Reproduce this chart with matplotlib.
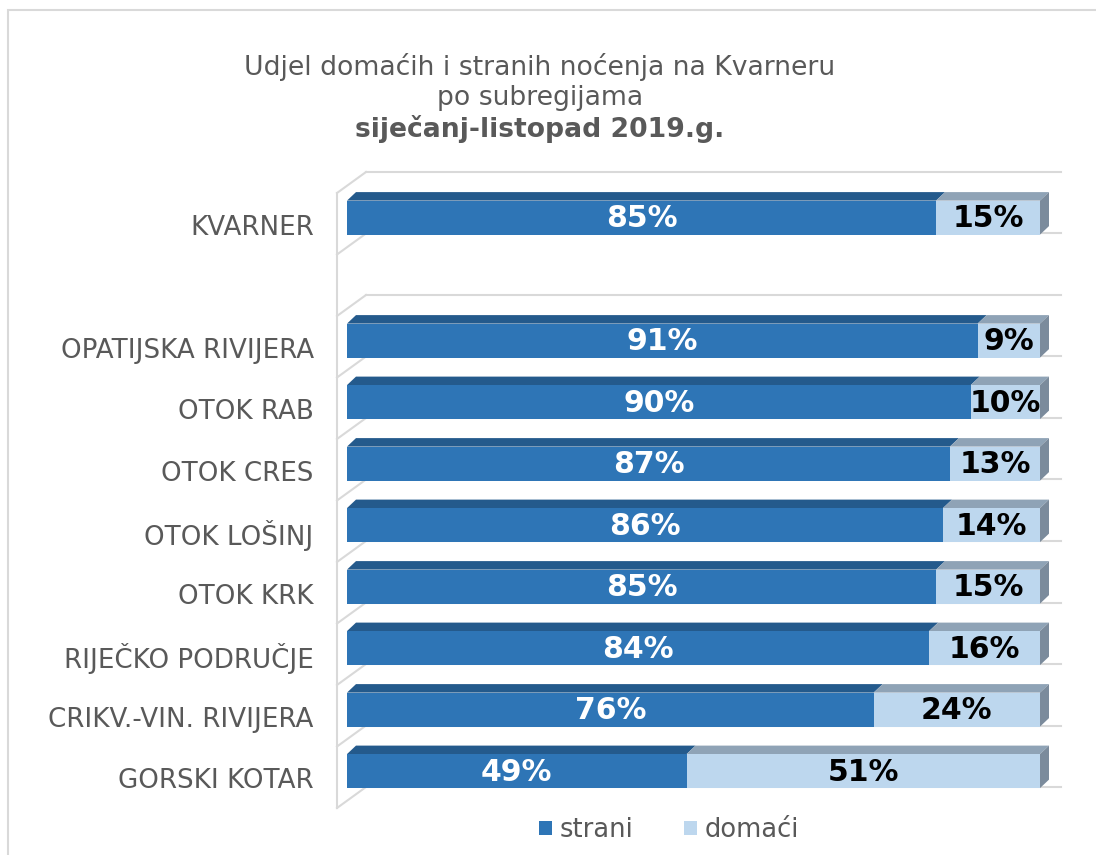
import matplotlib
matplotlib.use("Agg")
import matplotlib.pyplot as plt
from matplotlib.patches import Polygon, Patch, Rectangle
from matplotlib.lines import Line2D
from matplotlib.transforms import ScaledTranslation

# ---- data ----
categories = ["KVARNER", "", "OPATIJSKA RIVIJERA", "OTOK RAB", "OTOK CRES",
              "OTOK LOŠINJ", "OTOK KRK", "RIJEČKO PODRUČJE",
              "CRIKV.-VIN. RIVIJERA", "GORSKI KOTAR"]
strani = [85, None, 91, 90, 87, 86, 85, 84, 76, 49]
domaci = [15, None, 9, 10, 13, 14, 15, 16, 24, 51]
series_names = ["strani", "domaći"]
title_lines = ["Udjel domaćih i stranih noćenja na Kvarneru", "po subregijama",
               "siječanj-listopad 2019.g."]

# ---- style ----
FRONT = ["#2E75B6", "#BDD7EE"]
TOP = ["#245A8C", "#8FA3B6"]
SIDE = "#7B8B9C"
GRID = "#D9D9D9"
TXT = "#595959"

W, H = 1096, 855
fig = plt.figure(figsize=(W / 100, H / 100), dpi=100)
fig.patch.set_facecolor("white")

# axes: front plane x 0..100 spans px 347..1040; y slots -0.5..9.5 span px 193..808
ax = fig.add_axes([347 / W, 1 - 808 / H, (1040 - 347) / W, (808 - 193) / H])
n = len(categories)
ax.set_xlim(0, 100)
ax.set_ylim(n - 0.5, -0.5)
ax.set_facecolor("none")
for s in ax.spines.values():
    s.set_visible(False)
ax.set_xticks([])
ax.set_yticks(range(n))
ax.set_yticklabels(categories, fontsize=18.8, color=TXT)
ax.tick_params(axis="y", length=0, pad=24)
shift = ScaledTranslation(0, -4 / 100, fig.dpi_scale_trans)
for lab in ax.get_yticklabels():
    lab.set_verticalalignment("center")
    lab.set_transform(lab.get_transform() + shift)

pxx = (1040 - 347) / 100.0   # px per x unit
pxy = (808 - 193) / n        # px per y unit

# wall / gridlines
wx0 = -10 / pxx
wdx, wdy = 29 / pxx, -21 / pxy
wx1 = (1061 - 347) / pxx
ax.add_line(Line2D([wx0, wx0], [-0.5, n - 0.5], color=GRID, lw=1.5, clip_on=False, zorder=0))
for k in range(n + 1):
    yb = k - 0.5
    ax.add_line(Line2D([wx0, wx0 + wdx], [yb, yb + wdy], color=GRID, lw=1.5, clip_on=False, zorder=0))
    ax.add_line(Line2D([wx0 + wdx, wx1], [yb + wdy, yb + wdy], color=GRID, lw=1.5, clip_on=False, zorder=0))

# bars
bdx, bdy = 9 / pxx, -8.5 / pxy
bh = 34 / pxy
off = -0.1
for i in range(n):
    if strani[i] is None:
        continue
    vals = [strani[i], domaci[i]]
    left = 0
    yc = i + off
    top = yc - bh / 2
    bot = yc + bh / 2
    for j, v in enumerate(vals):
        right = left + v
        ax.barh(yc, v, left=left, height=bh, color=FRONT[j], edgecolor="none", zorder=3)
        ax.add_patch(Polygon([(left, top), (left + bdx, top + bdy), (right + bdx, top + bdy), (right, top)],
                             closed=True, facecolor=TOP[j], edgecolor="none", zorder=2, clip_on=False))
        if j == len(vals) - 1:
            ax.add_patch(Polygon([(right, top), (right + bdx, top + bdy), (right + bdx, bot + bdy), (right, bot)],
                                 closed=True, facecolor=SIDE, edgecolor="none", zorder=2, clip_on=False))
        ax.text(left + v / 2, yc + 0.02, f"{v}%", ha="center", va="center", fontsize=21.5,
                fontweight="bold", color="white" if j == 0 else "black", zorder=5)
        left = right

# title
fig.text(540 / W, 1 - 67 / H, title_lines[0], ha="center", va="center", fontsize=19.2, color=TXT)
fig.text(540 / W, 1 - 98 / H, title_lines[1], ha="center", va="center", fontsize=19.2, color=TXT)
fig.text(540 / W, 1 - 129 / H, title_lines[2], ha="center", va="center", fontsize=19.2,
         color=TXT, fontweight="bold")

# legend
handles = [Patch(facecolor=FRONT[0]), Patch(facecolor=FRONT[1])]
fig.legend(handles, series_names, loc="center", bbox_to_anchor=(669 / W, 1 - 830 / H), ncol=2,
           frameon=False, fontsize=18.5, labelcolor=TXT, handlelength=0.5, handleheight=0.5,
           handletextpad=0.3, columnspacing=2.0)

# outer border
fig.add_artist(Rectangle((8 / W, -0.05), 1.1, 1 - 10 / H + 0.05, transform=fig.transFigure,
                         fill=False, edgecolor=GRID, lw=1.5))

fig.savefig("out.png", dpi=100)
